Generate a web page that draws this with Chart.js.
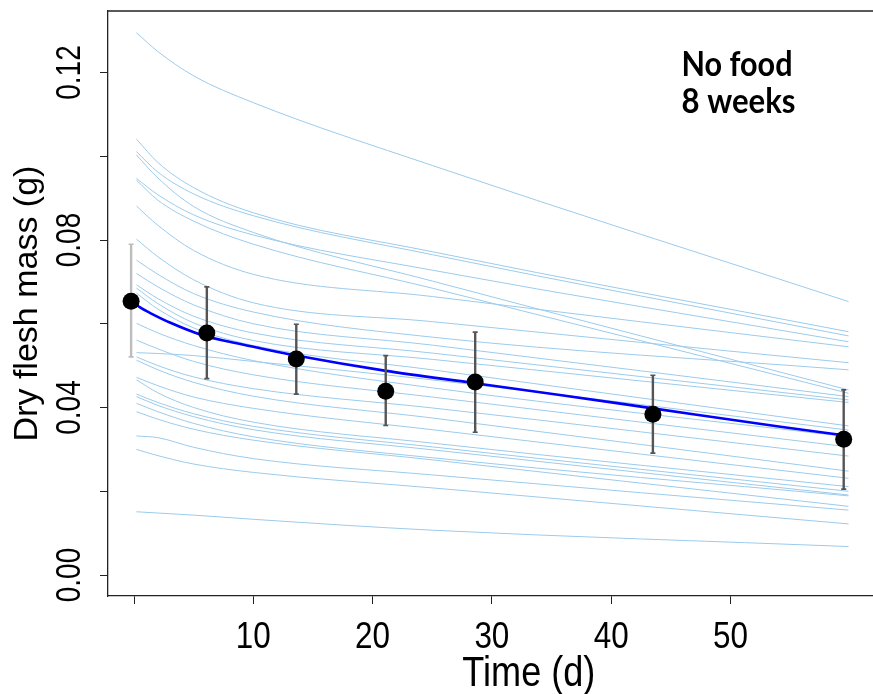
<!DOCTYPE html>
<html><head><meta charset="utf-8">
<script src="https://cdn.jsdelivr.net/npm/chart.js@4.4.1/dist/chart.umd.min.js"></script>
<style>
html,body{margin:0;padding:0;overflow:hidden;background:#fff;width:873px;height:694px}
#wrap{width:950px;height:694px}
</style></head>
<body><div id="wrap"><canvas id="c" width="950" height="694"></canvas></div>
<script>
// ---- data ----
const curveDays = [0.2, 2, 5, 10, 25, 59.9];
const individualMass = [
  [0.1295,0.1250,0.1192,0.1128,0.0978,0.0653],
  [0.1041,0.0985,0.0925,0.0865,0.0772,0.0581],
  [0.1011,0.0962,0.0910,0.0858,0.0765,0.0571],
  [0.1003,0.0948,0.0880,0.0818,0.0702,0.0442],
  [0.0947,0.0908,0.0860,0.0812,0.0728,0.0557],
  [0.0943,0.0895,0.0845,0.0790,0.0685,0.0434],
  [0.0881,0.0835,0.0775,0.0718,0.0665,0.0545],
  [0.0802,0.0760,0.0705,0.0650,0.0605,0.0507],
  [0.0752,0.0718,0.0672,0.0628,0.0568,0.0490],
  [0.0720,0.0688,0.0645,0.0600,0.0549,0.0426],
  [0.0693,0.0660,0.0618,0.0578,0.0530,0.0418],
  [0.0685,0.0648,0.0602,0.0560,0.0515,0.0412],
  [0.0673,0.0635,0.0590,0.0548,0.0490,0.0356],
  [0.0601,0.0578,0.0548,0.0512,0.0447,0.0330],
  [0.0561,0.0540,0.0510,0.0478,0.0425,0.0306],
  [0.0531,0.0529,0.0524,0.0510,0.0466,0.0346],
  [0.0521,0.0500,0.0473,0.0445,0.0399,0.0284],
  [0.0513,0.0490,0.0460,0.0427,0.0375,0.0248],
  [0.0472,0.0452,0.0425,0.0398,0.0347,0.0231],
  [0.0466,0.0435,0.0400,0.0365,0.0315,0.0211],
  [0.0432,0.0412,0.0385,0.0355,0.0306,0.0200],
  [0.0426,0.0405,0.0378,0.0347,0.0299,0.0191],
  [0.0410,0.0390,0.0362,0.0330,0.0280,0.0189],
  [0.0390,0.0372,0.0348,0.0322,0.0275,0.0164],
  [0.0332,0.0328,0.0305,0.0278,0.0239,0.0155],
  [0.0300,0.0285,0.0265,0.0245,0.0208,0.0122],
  [0.0151,0.0148,0.0143,0.0133,0.0107,0.0068]
];
const fitDays = [0, 0.5, 1.4, 3, 5.6, 8, 10, 13.6, 21, 28.6, 35.7, 43.5, 54.2, 60];
const fitMass = [0.0650,0.0639,0.0625,0.0603,0.0574,0.0557,0.0545,0.0524,0.0488,0.0458,0.0430,0.0398,0.0354,0.0332];
const meanDays = [-0.25, 6.1, 13.6, 21.1, 28.6, 43.5, 59.5];
const meanMass = [0.0654, 0.0578, 0.0516, 0.0439, 0.0461, 0.0384, 0.0324];
const errLow  = [0.0521, 0.0469, 0.0432, 0.0357, 0.0341, 0.0291, 0.0205];
const errHigh = [0.0790, 0.0688, 0.0599, 0.0524, 0.0580, 0.0477, 0.0442];
const xTicks = [0, 10, 20, 30, 40, 50];
const xTickLabels = ['', '10', '20', '30', '40', '50'];
const yTicks = [0, 0.02, 0.04, 0.06, 0.08, 0.10, 0.12];
const yTickLabels = ['0.00', '', '0.04', '', '0.08', '', '0.12'];
const xTitle = 'Time (d)';
const yTitle = 'Dry flesh mass (g)';
const noteLines = ['No food', '8 weeks'];

// ---- chart ----
const AXIS = '#222';
const SANS = "'Liberation Sans', Arial, sans-serif";

const datasets = individualMass.map(arr => ({
  type: 'line',
  data: curveDays.map((d, i) => ({x: d, y: arr[i]})),
  borderColor: 'rgb(155,203,236)',
  borderWidth: 1,
  pointRadius: 0,
  cubicInterpolationMode: 'monotone',
  order: 3
}));
datasets.push({
  type: 'line',
  data: fitDays.map((d, i) => ({x: d, y: fitMass[i]})),
  borderColor: '#0000ff',
  borderWidth: 2.6,
  pointRadius: 0,
  cubicInterpolationMode: 'monotone',
  order: 2
});
datasets.push({
  type: 'scatter',
  data: meanDays.map((d, i) => ({x: d, y: meanMass[i]})),
  backgroundColor: '#000',
  borderWidth: 0,
  pointRadius: 8.5,
  order: 0
});

const errorBars = {
  id: 'errorBars',
  beforeDatasetDraw(chart, args) {
    if (args.index !== chart.data.datasets.length - 1) return;
    const {ctx, scales: {x, y}} = chart;
    ctx.save();
    meanDays.forEach((d, i) => {
      const px = x.getPixelForValue(d);
      const t = y.getPixelForValue(errHigh[i]);
      const b = y.getPixelForValue(errLow[i]);
      ctx.strokeStyle = i === 0 ? '#bdbdbd' : '#555';
      ctx.lineWidth = 2.4;
      ctx.beginPath(); ctx.moveTo(px, t); ctx.lineTo(px, b); ctx.stroke();
      ctx.lineWidth = 1.6;
      ctx.beginPath();
      ctx.moveTo(px - 2.5, t); ctx.lineTo(px + 2.5, t);
      ctx.moveTo(px - 2.5, b); ctx.lineTo(px + 2.5, b);
      ctx.stroke();
    });
    ctx.restore();
  }
};

// condensed axis text (R-style narrow labels), drawn at the scales' own tick pixels
const axisText = {
  id: 'axisText',
  afterDraw(chart) {
    const {ctx, chartArea: a, scales: {x, y}} = chart;
    ctx.save();
    // top frame line
    ctx.strokeStyle = AXIS;
    ctx.lineWidth = 1.3;
    ctx.beginPath();
    ctx.moveTo(a.left, a.top); ctx.lineTo(a.right, a.top);
    ctx.stroke();

    ctx.fillStyle = '#000';
    // x tick labels
    ctx.font = '37px ' + SANS;
    ctx.textAlign = 'center';
    ctx.textBaseline = 'alphabetic';
    xTicks.forEach((v, i) => {
      const lab = xTickLabels[i];
      if (!lab) return;
      const w = ctx.measureText(lab).width * 0.85;
      ctx.fillText(lab, x.getPixelForValue(v), a.bottom + 52, w);
    });
    // x title, centred on the full (cropped) plot region
    ctx.font = '43px ' + SANS;
    const tw = ctx.measureText(xTitle).width * 0.84;
    ctx.fillText(xTitle, x.getPixelForValue(33.1), a.bottom + 90, tw);
    // y tick labels (rotated)
    ctx.font = '35px ' + SANS;
    yTicks.forEach((v, i) => {
      const lab = yTickLabels[i];
      if (!lab) return;
      const w = ctx.measureText(lab).width * 0.8;
      ctx.save();
      ctx.translate(a.left - 28, y.getPixelForValue(v));
      ctx.rotate(-Math.PI / 2);
      ctx.fillText(lab, 0, 0, w);
      ctx.restore();
    });
    // annotation
    ctx.textAlign = 'left';
    ctx.font = "bold 34px Lato, 'Open Sans', sans-serif";
    const nx = x.getPixelForValue(45.9);
    ctx.fillText(noteLines[0], nx, y.getPixelForValue(0.1192), 111);
    ctx.fillText(noteLines[1], nx, y.getPixelForValue(0.1103), 114);
    ctx.restore();
  }
};

new Chart(document.getElementById('c'), {
  type: 'scatter',
  data: {datasets},
  plugins: [errorBars, axisText],
  options: {
    responsive: false,
    animation: false,
    devicePixelRatio: 1,
    layout: {padding: {top: 11, left: 0, right: 0, bottom: 0}},
    plugins: {legend: {display: false}, tooltip: {enabled: false}},
    scales: {
      x: {
        type: 'linear',
        min: -2.187, max: 67.70,
        afterBuildTicks: s => { s.ticks = xTicks.map(v => ({value: v})); },
        afterFit: s => { s.height = 98; s.paddingLeft = 0; s.paddingRight = 0; s.paddingTop = 0; s.paddingBottom = 0; },
        ticks: {display: false, autoSkip: false},
        grid: {drawOnChartArea: false, drawTicks: true, tickLength: 8, tickColor: AXIS, tickWidth: 1},
        border: {display: true, color: AXIS, width: 1.3}
      },
      y: {
        type: 'linear',
        min: -0.005015, max: 0.13469,
        afterBuildTicks: s => { s.ticks = yTicks.map(v => ({value: v})); },
        afterFit: s => { s.width = 108; s.paddingLeft = 0; s.paddingRight = 0; s.paddingTop = 0; s.paddingBottom = 0; },
        ticks: {display: false, autoSkip: false},
        grid: {drawOnChartArea: false, drawTicks: true, tickLength: 8, tickColor: AXIS, tickWidth: 1},
        border: {display: true, color: AXIS, width: 1.3},
        title: {display: true, text: yTitle, color: '#000',
          font: {family: SANS, size: 34, lineHeight: 1}, padding: {top: 11, bottom: 0}}
      }
    }
  }
});
</script>
</body></html>
